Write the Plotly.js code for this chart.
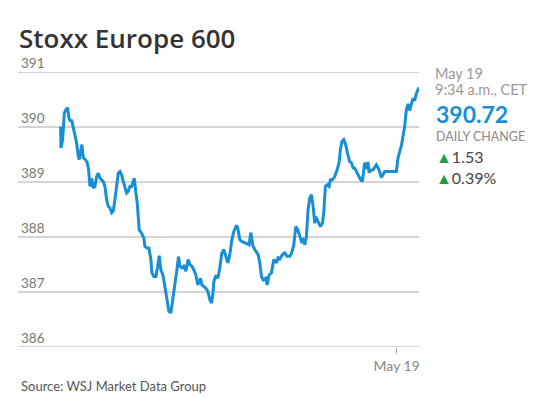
<!DOCTYPE html>
<html>
<head>
<meta charset="utf-8">
<script src="https://cdn.plot.ly/plotly-3.0.1.min.js"></script>
<style>
html,body{margin:0;padding:0;background:#fff;}
#chart{width:559px;height:398px;}
</style>
</head>
<body>
<div id="chart"></div>
<script>
// Session time (minutes from the left of the window) and index level
const minutes = [
  2, 3, 8, 13, 17, 23, 27, 32, 35, 40,
  45, 50, 55, 58, 62, 66, 70, 76, 82, 86,
  90, 95, 100, 105, 110, 115, 120, 125, 130, 135,
  140, 145, 150, 155, 160, 165, 170, 175, 180, 185,
  190, 195, 200, 205, 210, 215, 220, 223, 228, 232,
  238, 245, 252, 255, 261, 267, 273, 276, 282, 288,
  293, 298, 303, 309, 315, 321, 327, 333, 339, 345,
  351, 356, 360, 366, 372, 378, 385, 390, 396, 402,
  408, 414, 422, 426, 432, 438, 444, 450, 455, 459,
  462, 468, 474, 480, 486, 492, 498, 504, 510, 516,
  522, 530, 534, 540, 546, 554, 561, 568, 573, 579,
  585, 595, 600, 605, 610, 618, 622, 628, 635, 642,
  650, 655, 660, 668, 675, 682, 690, 695, 702, 708,
  714, 720, 725, 730, 735, 740, 745, 750, 755, 760,
  765, 768, 772, 776, 782, 788, 792, 797, 802, 808,
  812, 818, 825, 832, 838, 842, 847, 852, 858, 863,
  870, 875, 880, 885, 892, 898, 903, 908, 915, 920,
  925, 928, 935, 940, 950, 958, 965, 975, 990, 1010,
  1015, 1025, 1030, 1035, 1040, 1045, 1050, 1055, 1060, 1065,
  1070, 1078
];
const level = [
  390.01, 389.62, 389.77, 390.25, 390.31, 390.35, 390.16, 390.10, 390.13, 389.98,
  389.89, 389.71, 389.47, 389.41, 389.56, 389.68, 389.44, 389.41, 389.35, 389.22,
  388.92, 389.07, 388.89, 388.92, 389.10, 389.16, 389.07, 389.04, 389.01, 388.92,
  388.68, 388.56, 388.53, 388.44, 388.47, 388.68, 388.95, 389.16, 389.19, 389.13,
  389.01, 388.89, 388.80, 388.83, 388.92, 388.92, 389.04, 389.07, 388.80, 388.62,
  388.13, 388.07, 387.98, 387.83, 387.80, 387.80, 387.59, 387.35, 387.28, 387.28,
  387.45, 387.66, 387.40, 387.31, 387.10, 386.86, 386.65, 386.62, 386.86, 387.16,
  387.40, 387.64, 387.47, 387.44, 387.47, 387.38, 387.59, 387.50, 387.47, 387.40,
  387.31, 387.13, 387.25, 387.13, 387.10, 387.07, 387.01, 386.86, 386.80, 386.95,
  387.19, 387.30, 387.25, 387.44, 387.71, 387.77, 387.65, 387.53, 387.68, 387.95,
  388.10, 388.21, 388.16, 387.95, 387.92, 387.90, 387.88, 387.86, 388.08, 387.85,
  387.77, 387.68, 387.53, 387.28, 387.22, 387.25, 387.13, 387.31, 387.35, 387.59,
  387.53, 387.62, 387.60, 387.68, 387.71, 387.65, 387.65, 387.70, 387.85, 388.19,
  388.13, 387.99, 387.92, 387.95, 387.86, 388.01, 388.50, 388.71, 388.77, 388.56,
  388.25, 388.37, 388.31, 388.25, 388.19, 388.25, 388.44, 388.92, 388.95, 388.92,
  389.04, 389.04, 389.10, 389.22, 389.35, 389.59, 389.74, 389.77, 389.68, 389.53,
  389.37, 389.35, 389.26, 389.25, 389.17, 389.08, 389.04, 389.01, 389.35, 389.24,
  389.36, 389.17, 389.22, 389.22, 389.31, 389.22, 389.08, 389.19, 389.19, 389.19,
  389.44, 389.66, 389.83, 390.01, 390.31, 390.42, 390.30, 390.44, 390.52, 390.48,
  390.61, 390.72
];

const yTicks = [386, 387, 388, 389, 390, 391];
const yTickText = ['386', '387', '388', '389', '390', '391'];
const xTicks = [1011];
const xTickText = ['May 19'];

const chartTitle = 'Stoxx Europe 600';
const sideDate = 'May 19';
const sideTime = '9:34 a.m., CET';
const lastValue = '390.72';
const changeLabel = 'DAILY CHANGE';
const changeAbs = '1.53';
const changePct = '0.39%';
const sourceText = 'Source: WSJ Market Data Group';

const BLUE = '#168fd5';
const GREEN = '#1e9d4b';
const GRID = '#aaa';

const trace = {
  x: minutes, y: level, type: 'scatter', mode: 'lines',
  line: {color: BLUE, width: 3, shape: 'linear'},
  hoverinfo: 'skip'
};

const L = 18, R = 140, T = 72, B = 51, W = 559, H = 398;
const pw = W - L - R, ph = H - T - B;
const px = v => (v - L) / pw;
const py = v => (H - B - v) / ph;

const sideFont = 'Lato, "Open Sans", sans-serif';
const base = {xref: 'paper', yref: 'paper', xanchor: 'left', yanchor: 'middle', showarrow: false};
const annotations = [
  {text: sideDate, x: px(433), y: py(73.5), font: {size: 14.5, color: '#999', family: sideFont}},
  {text: sideTime, x: px(433), y: py(89.5), font: {size: 14.5, color: '#999', family: sideFont}},
  {text: '<b>' + lastValue + '</b>', x: px(434), y: py(113.5), font: {size: 23, color: BLUE, family: sideFont}},
  {text: changeLabel, x: px(434), y: py(136), font: {size: 12.5, color: '#888', family: sideFont}},
  {text: '<span style="color:' + GREEN + '">▲</span>' + changeAbs, x: px(434), y: py(156), font: {size: 16, color: '#444', family: sideFont}},
  {text: '<span style="color:' + GREEN + '">▲</span>' + changePct, x: px(434), y: py(177), font: {size: 16, color: '#444', family: sideFont}},
  {text: sourceText, x: px(19), y: py(386), font: {size: 13, color: '#555', family: sideFont}}
].map(a => Object.assign({}, base, a));

// y-axis labels sit on top of their gridlines, inside the left edge
yTicks.forEach((v, i) => {
  annotations.push(Object.assign({}, base, {
    text: yTickText[i], xref: 'paper', yref: 'y', x: px(19), y: v,
    yanchor: 'bottom', yshift: -1,
    font: {size: 13.5, color: '#777', family: sideFont}
  }));
});

// gridlines as shapes so the top (391) line is drawn too
const shapes = yTicks.map(v => ({
  type: 'line', xref: 'paper', yref: 'y', x0: 0, x1: 1, y0: v, y1: v,
  line: {color: GRID, width: 1}, layer: 'below'
}));

const layout = {
  width: W, height: H,
  margin: {l: L, r: R, t: T, b: B, pad: 0},
  paper_bgcolor: '#fff', plot_bgcolor: '#fff',
  showlegend: false,
  title: {
    text: chartTitle,
    xref: 'container', yref: 'container',
    x: 19 / W, xanchor: 'left',
    y: 1 - 38.5 / H, yanchor: 'middle',
    font: {family: '"Open Sans", sans-serif', size: 26, color: '#333', weight: 600}
  },
  xaxis: {
    range: [-126, 1078],
    tickvals: xTicks, ticktext: xTickText,
    showgrid: false, zeroline: false,
    showline: false,
    ticks: 'outside', ticklen: 6, tickcolor: GRID, tickwidth: 1,
    tickfont: {size: 14, color: '#888', family: sideFont},
    fixedrange: true
  },
  yaxis: {
    range: [386, 391],
    showgrid: false, zeroline: false, showline: false, ticks: '',
    showticklabels: false,
    fixedrange: true
  },
  shapes: shapes,
  annotations: annotations
};

Plotly.newPlot('chart', [trace], layout, {displayModeBar: false, staticPlot: true});
</script>
</body>
</html>
